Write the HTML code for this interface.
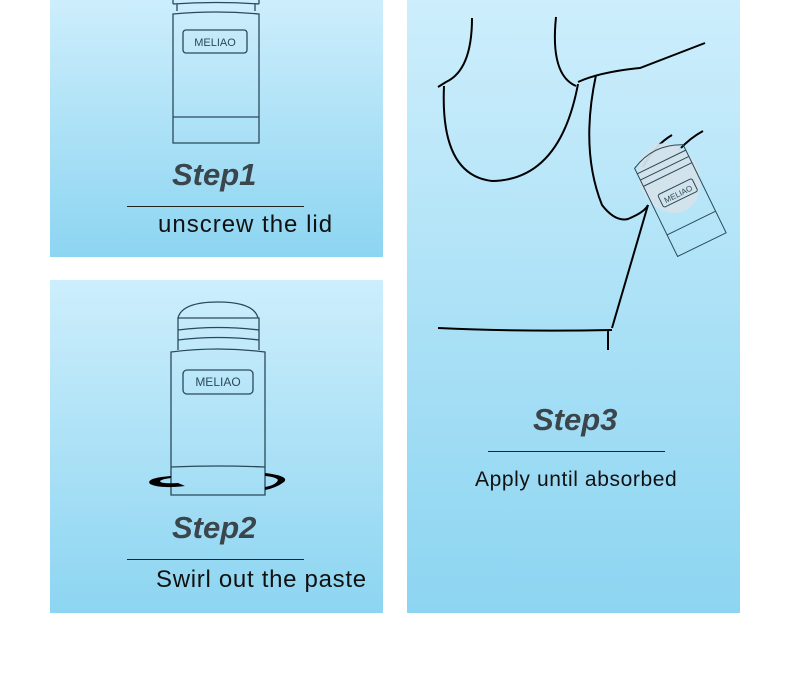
<!DOCTYPE html>
<html><head><style>
body{margin:0;width:790px;height:679px;background:#fff;position:relative;overflow:hidden;font-family:"Liberation Sans",sans-serif}
.p{position:absolute;background:linear-gradient(180deg,#cdeefc 0%,#a9e0f6 55%,#8dd5f1 100%)}
.s{position:absolute;font-weight:bold;font-style:italic;color:#3b464c;font-size:31px}
.t{position:absolute;color:#111;font-size:24px;white-space:nowrap}
.l{position:absolute;height:1px;background:#222}
svg{position:absolute;left:0;top:0}
</style></head><body>
<div class="p" style="left:50px;top:0;width:333px;height:257px"></div>
<div class="p" style="left:50px;top:280px;width:333px;height:333px"></div>
<div class="p" style="left:407px;top:0;width:333px;height:613px"></div>
<div class="s" style="left:172px;top:157px">Step1</div>
<div class="l" style="left:127px;top:206px;width:177px"></div>
<div class="t" style="left:158px;top:211px;letter-spacing:1px">unscrew the lid</div>
<div class="s" style="left:172px;top:510px">Step2</div>
<div class="l" style="left:127px;top:559px;width:177px"></div>
<div class="t" style="left:156px;top:566px;letter-spacing:0.7px">Swirl out the paste</div>
<div class="s" style="left:533px;top:402px">Step3</div>
<div class="l" style="left:488px;top:451px;width:177px"></div>
<div class="t" style="left:475px;top:468px;font-size:21px;letter-spacing:0.6px">Apply until absorbed</div>
<svg width="790" height="679" viewBox="0 0 790 679">
<g fill="none" stroke="#2a4a5a" stroke-width="1.3">
<path d="M173 0 V4 M259 0 V4 M173 4 Q216 1 259 4 M177 4 V11 M255 4 V11"/>
<path d="M173 14 Q216 10 259 14 V143 H173 Z M173 117 H259"/>
<rect x="183" y="30" width="64" height="23" rx="3"/>
<path d="M178 318 Q182 302 218 302 Q254 302 258 318 Z M178 318 H259 V350 M178 318 V350 M178 330 Q218 325 259 330 M178 340 Q218 335 259 340"/>
<path d="M171 352 Q218 346 265 352 V495 H171 Z M171 467 Q218 465 265 467"/>
<rect x="183" y="370" width="70" height="24" rx="4"/>
</g>
<text x="215" y="46" font-size="11" fill="#2a4a5a" text-anchor="middle" font-family="Liberation Sans">MELIAO</text>
<text x="218" y="386" font-size="12" fill="#2a4a5a" text-anchor="middle" font-family="Liberation Sans">MELIAO</text>
<path d="M171 476 Q145 478 150 484 Q160 489 185 486 L178 483 Q160 484 160 481 Q162 479 171 478 Z" fill="#000"/>
<path d="M265 473 Q290 476 284 482 Q276 488 265 490 V487 Q276 485 278 480 Q276 477 265 476 Z" fill="#000"/>
<g fill="none" stroke="#000" stroke-width="2">
<path d="M472 18 Q472 70 446 82 L438 87"/>
<path d="M444 86 Q440 175 492 181 Q560 180 578 84"/>
<path d="M556 17 Q550 75 576 86"/>
<path d="M578 82 Q600 72 640 68 L705 43"/>
<path d="M596 75 Q580 150 602 205 Q615 222 628 219 Q645 212 648 205"/>
<path d="M648 205 L612 328 M438 328 Q520 332 612 330 M608 330 V350"/>
<path d="M643 167 Q655 145 672 135 M679 150 Q690 138 703 131"/>
</g>
<g transform="translate(632,163) rotate(-26)">
<ellipse cx="27" cy="30" rx="30" ry="36" fill="#d3e3ea" opacity="0.95"/>
<g fill="none" stroke="#2a4a5a" stroke-width="1">
<path d="M0 6 Q27 -8 54 6 L54 104 H0 Z"/>
<path d="M0 12 H54 M0 19 H54 M0 26 H54 M0 80 H54"/>
<rect x="9" y="40" width="38" height="14" rx="2"/>
</g>
<text x="28" y="51" font-size="8" fill="#2a4a5a" text-anchor="middle" font-family="Liberation Sans">MELIAO</text>
</g>
</svg>
</body></html>
